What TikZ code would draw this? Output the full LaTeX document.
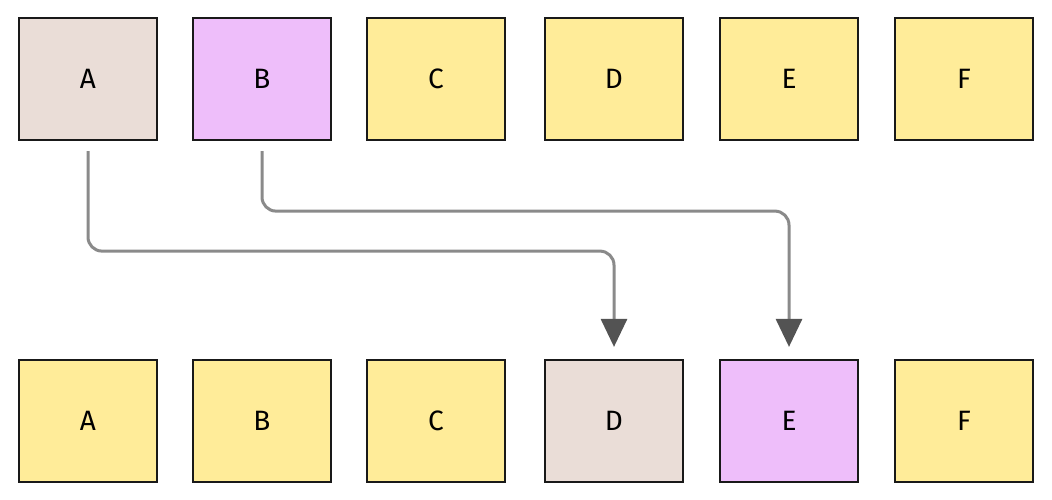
\documentclass[tikz,border=0pt]{standalone}
\usepackage{fontspec}
\setmainfont{Fira Sans}
\usetikzlibrary{arrows.meta}
\definecolor{yel}{HTML}{FFEC99}
\definecolor{beig}{HTML}{EADDD7}
\definecolor{vio}{HTML}{EEBEFA}
\definecolor{arr}{HTML}{8A8A8A}
\begin{document}
\begin{tikzpicture}[x=1pt,y=-1pt,
 box/.style={draw=black!90,line width=2.2pt,minimum width=138pt,minimum height=122pt,inner sep=0pt,font=\fontsize{28}{30}\selectfont},
 con/.style={draw=arr,line width=3pt,rounded corners=14pt,-{Triangle[length=28pt,width=26pt,fill=arr!60!black,color=arr!60!black]},shorten <=10pt,shorten >=12pt}]
\useasboundingbox (0,0) rectangle (1052,500);
\foreach \n/\x/\c in {A/88/beig,B/262/vio,C/436/yel,D/614/yel,E/789/yel,F/964/yel}
  \node[box,fill=\c] (\n1) at (\x,79) {\n};
\foreach \n/\x/\c in {A/88/yel,B/262/yel,C/436/yel,D/614/beig,E/789/vio,F/964/yel}
  \node[box,fill=\c] (\n2) at (\x,421) {\n};
\draw[con] (A1.south) -- ++(0,110) -| (D2.north);
\draw[con] (B1.south) -- ++(0,70) -| (E2.north);
\end{tikzpicture}
\end{document}
